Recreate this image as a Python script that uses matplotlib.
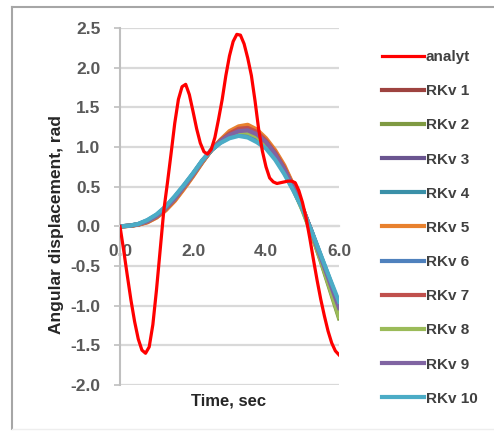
import matplotlib
matplotlib.use("Agg")
import matplotlib.pyplot as plt
from matplotlib.lines import Line2D

plt.rcParams["font.family"] = ["Liberation Sans", "DejaVu Sans"]

# analytic solution, every 0.1 s
t_an = [i / 10 for i in range(61)]
analyt = [0.0, -0.3, -0.62, -0.93, -1.2, -1.42, -1.56, -1.6, -1.52, -1.24,
          -0.8, -0.3, 0.2, 0.55, 0.92, 1.3, 1.6, 1.76, 1.79, 1.66,
          1.45, 1.23, 1.05, 0.94, 0.91, 0.97, 1.12, 1.35, 1.6, 1.9,
          2.15, 2.33, 2.42, 2.41, 2.3, 2.12, 1.9, 1.58, 1.22, 0.95,
          0.75, 0.61, 0.56, 0.54, 0.55, 0.56, 0.57, 0.57, 0.55, 0.45,
          0.3, 0.1, -0.15, -0.42, -0.68, -0.92, -1.13, -1.32, -1.47, -1.57,
          -1.62]

# numerical solutions, every 0.25 s
t_rk = [i / 4 for i in range(25)]
rk = {
    "RKv 1": [0, 0.006, 0.022, 0.055, 0.115, 0.21, 0.33, 0.48, 0.64, 0.81, 0.96, 1.08, 1.18,
              1.24, 1.25, 1.2, 1.09, 0.94, 0.75, 0.51, 0.23, -0.07, -0.4, -0.74, -1.08],
    "RKv 2": [0, 0.006, 0.024, 0.06, 0.12, 0.22, 0.34, 0.49, 0.65, 0.81, 0.96, 1.07, 1.15,
              1.2, 1.19, 1.14, 1.04, 0.9, 0.71, 0.48, 0.21, -0.1, -0.44, -0.8, -1.16],
    "RKv 3": [0, 0.007, 0.025, 0.065, 0.13, 0.225, 0.35, 0.5, 0.65, 0.82, 0.96, 1.07, 1.16,
              1.21, 1.22, 1.17, 1.07, 0.92, 0.73, 0.5, 0.23, -0.07, -0.39, -0.72, -1.05],
    "RKv 4": [0, 0.008, 0.028, 0.072, 0.14, 0.24, 0.37, 0.51, 0.66, 0.82, 0.96, 1.06, 1.13,
              1.17, 1.16, 1.1, 1.01, 0.87, 0.69, 0.47, 0.22, -0.07, -0.37, -0.68, -1.0],
    "RKv 5": [0, 0.005, 0.02, 0.05, 0.11, 0.2, 0.32, 0.47, 0.63, 0.8, 0.96, 1.09, 1.2,
              1.26, 1.28, 1.22, 1.11, 0.96, 0.77, 0.52, 0.24, -0.07, -0.41, -0.76, -1.1],
    "RKv 6": [0, 0.008, 0.029, 0.075, 0.145, 0.245, 0.37, 0.515, 0.665, 0.825, 0.96, 1.055, 1.12,
              1.16, 1.15, 1.09, 1.0, 0.86, 0.68, 0.46, 0.22, -0.06, -0.37, -0.67, -0.98],
    "RKv 7": [0, 0.006, 0.023, 0.058, 0.12, 0.215, 0.34, 0.49, 0.645, 0.81, 0.96, 1.08, 1.17,
              1.23, 1.24, 1.19, 1.08, 0.93, 0.74, 0.5, 0.23, -0.07, -0.4, -0.73, -1.07],
    "RKv 8": [0, 0.007, 0.026, 0.065, 0.13, 0.23, 0.35, 0.5, 0.655, 0.815, 0.96, 1.065, 1.14,
              1.19, 1.18, 1.13, 1.03, 0.89, 0.7, 0.47, 0.2, -0.1, -0.43, -0.78, -1.14],
    "RKv 9": [0, 0.007, 0.025, 0.065, 0.13, 0.23, 0.35, 0.5, 0.655, 0.82, 0.96, 1.07, 1.15,
              1.2, 1.21, 1.16, 1.06, 0.91, 0.72, 0.49, 0.23, -0.07, -0.39, -0.71, -1.03],
    "RKv 10": [0, 0.008, 0.03, 0.08, 0.15, 0.25, 0.38, 0.52, 0.67, 0.83, 0.96, 1.05, 1.11,
               1.14, 1.12, 1.06, 0.98, 0.84, 0.66, 0.45, 0.22, -0.06, -0.36, -0.66, -0.95],
}
rk_colors = ["#9E4340", "#7F9A42", "#6A5590", "#3A90A8", "#E8812E",
             "#4F81BD", "#C0504D", "#9BBB59", "#8064A2", "#4BACC6"]

fig = plt.figure(figsize=(4.94, 4.32), dpi=100)
ax = fig.add_axes([120 / 494, 1 - 385 / 432, 219 / 494, 357 / 432])

handles = []
h, = ax.plot(t_an, analyt, color="#FF0000", lw=2.3, label="analyt", zorder=5)
handles.append(h)
for (name, vals), c in zip(rk.items(), rk_colors):
    h, = ax.plot(t_rk, vals, color=c, lw=3, label=name, zorder=3)
    handles.append(h)

ax.set_xlim(0, 6)
ax.set_ylim(-2, 2.5)
ax.set_xticks([0, 2, 4, 6])
ax.set_xticklabels(["0.0", "2.0", "4.0", "6.0"])
ax.set_yticks([-2 + 0.5 * i for i in range(10)])
ax.set_yticklabels(["%.1f" % (-2 + 0.5 * i) for i in range(10)])

ax.grid(axis="y", color="#D9D9D9", lw=1.6)
ax.set_axisbelow(True)
for s in ["top", "right"]:
    ax.spines[s].set_visible(False)
ax.spines["left"].set_color("#BFBFBF")
ax.spines["left"].set_linewidth(1.5)
ax.spines["bottom"].set_position(("data", 0))
ax.spines["bottom"].set_color("#D9D9D9")
ax.spines["bottom"].set_linewidth(1.6)

ax.tick_params(axis="y", length=4, color="#BFBFBF", width=1.2, pad=10,
               labelsize=12.5, labelcolor="#595959")
ax.tick_params(axis="x", length=0, pad=13, labelsize=12.5, labelcolor="#595959")
for lab in ax.get_xticklabels() + ax.get_yticklabels():
    lab.set_fontweight("bold")

ax.set_xlabel("Time, sec", fontsize=12, fontweight="bold", color="#262626")
ax.xaxis.set_label_coords(0.498, -0.025)
ax.set_ylabel("Angular displacement, rad", fontsize=12.5, fontweight="bold", color="#262626")
ax.yaxis.set_label_coords(-0.256, 0.45)

fig.legend(handles=handles, loc="upper left", bbox_to_anchor=(382 / 494, 1 - 50 / 432),
           frameon=False, labelspacing=1.32, handlelength=2.75,
           handletextpad=0.12, borderpad=0, borderaxespad=0,
           prop={"weight": "bold", "size": 11}, labelcolor="#404040")

# chart frame
fig.add_artist(Line2D([12 / 494, 1], [1 - 7 / 432, 1 - 7 / 432], color="#A6A6A6", lw=1.5))
fig.add_artist(Line2D([12 / 494, 12 / 494], [1 - 7 / 432, 1 - 429 / 432], color="#A6A6A6", lw=1.5))
fig.add_artist(Line2D([12 / 494, 1], [1 - 429 / 432, 1 - 429 / 432], color="#EEEEEE", lw=1))

fig.savefig("out.png", dpi=100)
